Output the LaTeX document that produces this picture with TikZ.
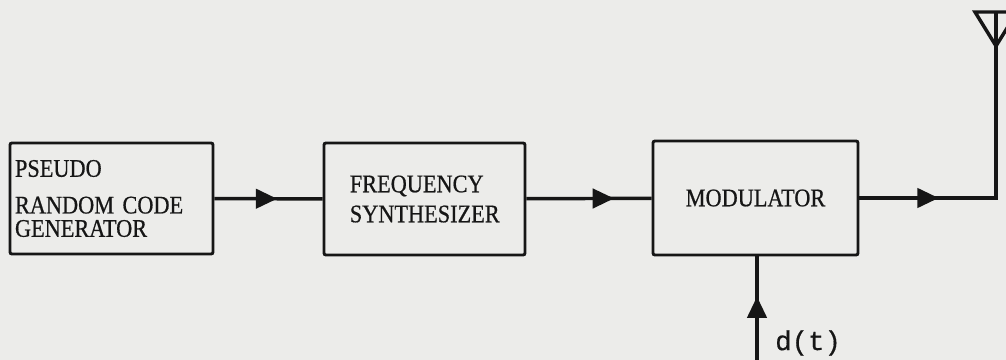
\documentclass[tikz,border=0pt]{standalone}
\usepackage{fontspec}
\setmainfont{Liberation Serif}[FakeStretch=0.88,FakeBold=0.6]
\newfontfamily\dtfont{Liberation Mono}[FakeBold=0.5]
\usetikzlibrary{arrows.meta,decorations.markings}
\definecolor{paper}{RGB}{236,236,234}
\definecolor{ink}{RGB}{22,22,22}
\tikzset{
  block/.style={draw=ink, line width=2.2pt, rounded corners=1.5pt, text=ink,
    font=\fontsize{19}{17.5}\selectfont},
  conn/.style={draw=ink, line width=2.6pt},
  midarrow/.style={decoration={markings,
      mark=at position #1 with {\arrow[ink]{Triangle[length=16pt,width=14.5pt]}}},
    postaction=decorate},
  midarrow/.default=0.58
}
\begin{document}
\begin{tikzpicture}[x=0.75pt,y=-0.75pt]
\useasboundingbox (0,0) rectangle (1006,360);
\fill[paper] (0,0) rectangle (1006,360);
\clip (0,0) rectangle (1006,360);
% blocks
\node[block, minimum width=152.25pt, minimum height=83.25pt, text width=144.75pt, align=left] (prcg) at (111.5,198.5) {PSEUDO\\[10pt]RANDOM CODE\\GENERATOR};
\node[block, minimum width=150.75pt, minimum height=84pt, text width=112pt, align=left] (synth) at (424.5,199) {FREQUENCY\\[5pt]SYNTHESIZER};
\node[block, minimum width=153.75pt, minimum height=85.5pt] (mod) at (755.5,198) {MODULATOR};
\coordinate (ant) at (996,46);
\coordinate (corner) at (mod.east -| ant);
\coordinate (din) at (757,362);
% signal path
\draw[conn, midarrow] (prcg) -- (synth);
\draw[conn, midarrow=0.7] (synth) -- (mod);
\draw[conn, midarrow] (mod.east) -- (corner);
\draw[conn, line cap=rect] (corner) -- (ant);
\draw[conn, midarrow=0.62] (din) -- (din |- mod.south);
\node[inner sep=0pt, anchor=west, text=ink, font=\dtfont\fontsize{20.5}{22}\selectfont] (dlabel) at (775,343) {d(t)};
% antenna
\draw[conn, line join=miter] (ant) -- (975,12) -- (1017,12) -- cycle;
\draw[conn] (ant) -- (ant |- 0,12);
\end{tikzpicture}
\end{document}
